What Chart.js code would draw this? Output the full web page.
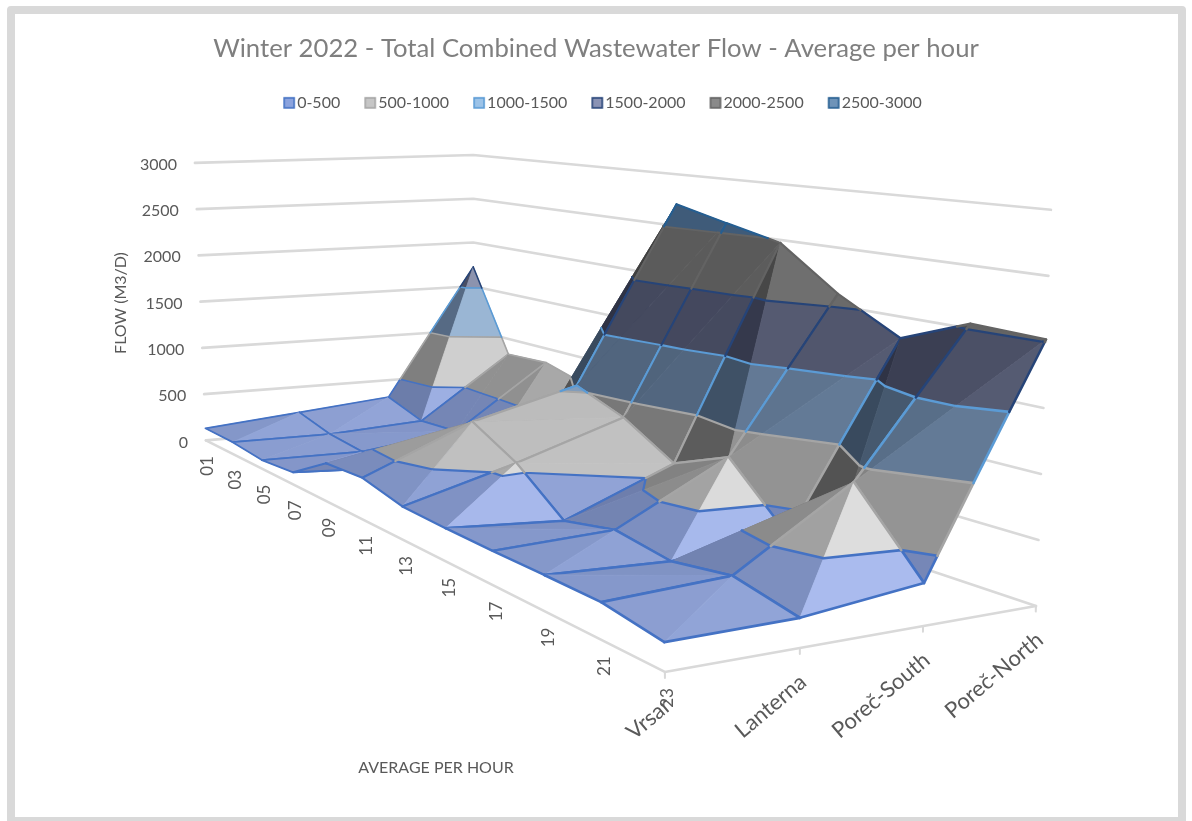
<!DOCTYPE html>
<html><head><meta charset="utf-8">
<style>
html,body{margin:0;padding:0;background:#fff;width:1192px;height:821px;overflow:hidden}
#frame{position:absolute;left:7px;top:6px;width:1163px;height:803px;border:8px solid #d9d9d9;border-radius:4px;box-sizing:content-box}
canvas{position:absolute;left:0;top:0}
</style>
<script src="https://cdn.jsdelivr.net/npm/chart.js@4/dist/chart.umd.min.js"></script>
</head><body>
<div id="frame"></div>
<canvas id="c" width="1192" height="821"></canvas>
<script>
// ---- data ----
const hours = ['01','03','05','07','09','11','13','15','17','19','21','23'];
const sites = ['Vrsar','Lanterna','Poreč-South','Poreč-North'];
const vrsar      = [130,125,88,120,359,380,290,278,274,276,273,203];
const lanterna   = [220,120,78,65,129,790,560,218,314,243,321,213];
const porecSouth = [310,176,198,225,379,1040,870,600,800,318,900,315];
const porecNorth = [1720,830,848,725,929,2710,2590,2474,2104,1823,2040,2018];
const yTicks = [0,500,1000,1500,2000,2500,3000];
const bandLabels = ['0-500','500-1000','1000-1500','1500-2000','2000-2500','2500-3000'];

// ---- styles ----
const bandBorder = ['#4472C4','#A5A5A5','#5B9BD5','#264478','#636363','#255E91'];
const bandSwatch = ['#8ba3de','#c6c6c6','#9cc3e8','#8a93b5','#8a8a8a','#6e93b8'];
const bandShades = [
  ['#56648c','#8699cc','#aebff2'],
  ['#4e4e4e','#b6b6b6','#e2e2e2'],
  ['#36465a','#7a94b4','#b2d0ec'],
  ['#2c3042','#6a708a','#a6adca'],
  ['#3c3c3c','#8a8a8a','#9c9c9c'],
  ['#2e4a6a','#5a7690','#88a2bc']
];
const series = [vrsar,lanterna,porecSouth,porecNorth];
const zMax = 3000;
const midStop = 0.62, topStop = 0.95;

// ---- 3D box projection (floor corners + top-plane corners of the box) ----
const floorC = {p00:[205,441],p10:[473,418],p11:[1037,607],p01:[665,673]};
const topC   = {p00:[194,163],p10:[473,155],p11:[1052,210]};
const rise = -0.03, depthPersp = -0.37;
const H = (function(){
  const {p00,p10,p11,p01}=floorC;
  const dx1=p10[0]-p11[0],dx2=p01[0]-p11[0],sx=p00[0]-p10[0]+p11[0]-p01[0];
  const dy1=p10[1]-p11[1],dy2=p01[1]-p11[1],sy=p00[1]-p10[1]+p11[1]-p01[1];
  const det=dx1*dy2-dx2*dy1;
  const g=(sx*dy2-dx2*sy)/det,h=(dx1*sy-sx*dy1)/det;
  const fl=[0,1].map(i=>[p10[i]-p00[i]+g*p10[i],p01[i]-p00[i]+h*p01[i],p00[i]]);
  const w00=1+rise,w10=1+rise+g,w11=1+rise+g+h;
  const tp=[0,1].map(i=>{
    const C=topC.p00[i]*w00,A=topC.p10[i]*w10-C,num11=topC.p11[i]*w11;
    return [A,num11-A-C,C];
  });
  return {g,h,fl,tp};
})();
function project(u,v0,z){
  const t0=v0*(1+depthPersp)/(1+depthPersp*v0);
  const v=t0/(1+H.h-H.h*t0);
  const w=1+H.g*u+H.h*v,k=z/zMax;
  const fx=(H.fl[0][0]*u+H.fl[0][1]*v+H.fl[0][2])/w,fy=(H.fl[1][0]*u+H.fl[1][1]*v+H.fl[1][2])/w;
  const tw=w+rise;
  const tx=(H.tp[0][0]*u+H.tp[0][1]*v+H.tp[0][2])/tw,ty=(H.tp[1][0]*u+H.tp[1][1]*v+H.tp[1][2])/tw;
  return {x:fx+(tx-fx)*k,y:fy+(ty-fy)*k,w};
}

// ---- helpers ----
function hex(c){return [1,3,5].map(i=>parseInt(c.substr(i,2),16));}
function shade(b,s){
  const st=bandShades[b].map(hex);
  const mix=(A,B,t)=>A.map((x,i)=>Math.round(x+(B[i]-x)*t));
  const r=s<midStop?mix(st[0],st[1],s/midStop):mix(st[1],st[2],Math.min(1,(s-midStop)/(topStop-midStop)));
  return `rgb(${r[0]},${r[1]},${r[2]})`;
}
function brightness(t){
  const [A,B,C]=t;
  const ab=[B.u-A.u,B.v-A.v,(B.z-A.z)/zMax*0.6],ac=[C.u-A.u,C.v-A.v,(C.z-A.z)/zMax*0.6];
  let n=[ab[1]*ac[2]-ab[2]*ac[1],ab[2]*ac[0]-ab[0]*ac[2],ab[0]*ac[1]-ab[1]*ac[0]];
  if(n[2]<0)n=n.map(x=>-x);
  const m=Math.hypot(...n);n=n.map(x=>x/m);
  const front=n[1]>0?0.42*n[1]*Math.max(0,1+1.3*Math.min(0,n[0])):0.5*n[1];
  const s=midStop+front+0.55*n[0];
  return Math.max(0.03,Math.min(1,s));
}
function clipSide(poly,val,keepAbove,tag){
  const out=[],N=poly.length;
  const inside=p=>keepAbove?p.z>=val:p.z<=val;
  for(let i=0;i<N;i++){
    const A=poly[i],B=poly[(i+1)%N],ia=inside(A),ib=inside(B);
    const cross=()=>{const t=(val-A.z)/(B.z-A.z);return {u:A.u+(B.u-A.u)*t,v:A.v+(B.v-A.v)*t,z:val};};
    if(ia&&ib)out.push({...A});
    else if(ia&&!ib){out.push({...A});out.push({...cross(),e:tag});}
    else if(!ia&&ib){out.push({...cross(),e:A.e});}
  }
  return out;
}

// ---- build datasets, painted back to front ----
const painted=[];
function seg(points,color,width){
  painted.push({data:points,borderColor:color,backgroundColor:color,borderWidth:width,showLine:true,pointRadius:0,
    fill:false,clip:false,borderCapStyle:'round',borderJoinStyle:'round',tension:0});
}
const gridColor='#d9d9d9';
yTicks.forEach(z=>{
  const a=project(0,0,z),b=project(1,0,z),c=project(1,1,z);
  seg([{x:a.x,y:a.y},{x:b.x,y:b.y},{x:c.x,y:c.y}],gridColor,2.6);
});
{
  const a=project(0,0,0),b=project(0,1,0),c=project(1,1,0);
  seg([{x:a.x,y:a.y},{x:b.x,y:b.y},{x:c.x,y:c.y}],gridColor,2.6);
  sites.forEach((s,j)=>{
    const u=j/(sites.length-1),p=project(u,1,0),q=project(u,1,-42);
    seg([{x:p.x,y:p.y},{x:q.x,y:q.y}],gridColor,2);
  });
}
function addTriangle(tri){
  const s=brightness(tri);
  const lines=[];
  for(let b=0;b<bandLabels.length;b++){
    const lo=b*500,hi=(b+1)*500;
    let poly=clipSide(tri,lo,true,'n');
    if(poly.length>=3)poly=clipSide(poly,hi,false,'c');
    if(poly.length<3)continue;
    const pts=poly.map(p=>project(p.u,p.v,p.z));
    const col=shade(b,s);
    const closed=pts.map(p=>({x:p.x,y:p.y}));closed.push({x:pts[0].x,y:pts[0].y});
    painted.push({data:closed,backgroundColor:col,borderColor:col,borderWidth:0.8,showLine:true,pointRadius:0,fill:'shape',clip:false,tension:0});
    const ed=[];let wsum=0,wn=0;
    poly.forEach((p,i)=>{
      if(p.e==='g'||p.e==='c'){
        const A=pts[i],B=pts[(i+1)%pts.length];
        ed.push({x:A.x,y:A.y},{x:B.x,y:B.y},{x:NaN,y:NaN});
        wsum+=A.w+B.w;wn+=2;
      }
    });
    if(ed.length)lines.push({ed,color:bandBorder[b],w:wn?1.7/(wsum/wn):1.7});
  }
  lines.forEach(l=>seg(l.ed,l.color,l.w));
}
const R=hours.length-1,C=sites.length-1;
for(let k=0;k<R;k++){
  for(let c=C-1;c>=0;c--){
    const P=(kk,cc)=>({u:cc/C,v:kk/R,z:series[cc][kk]});
    const a=P(k,c),b=P(k,c+1),d=P(k+1,c),e=P(k+1,c+1);
    const tag=(p,t)=>({...p,e:t});
    if(a.z+e.z>=b.z+d.z){
      addTriangle([tag(a,'g'),tag(b,'g'),tag(e,'d')]);
      addTriangle([tag(a,'d'),tag(e,'g'),tag(d,'g')]);
    }else{
      addTriangle([tag(a,'g'),tag(b,'d'),tag(d,'g')]);
      addTriangle([tag(b,'g'),tag(e,'g'),tag(d,'d')]);
    }
  }
}
painted.forEach((d,i)=>{d.order=painted.length-i;});

// ---- axis text ----
const textColor='#595959';
const axisText={
  id:'axisText',
  afterDatasetsDraw(chart){
    const ctx=chart.ctx;ctx.save();ctx.fillStyle=textColor;ctx.textBaseline='middle';
    ctx.font='16px Lato';ctx.textAlign='right';
    yTicks.forEach(z=>{const p=project(0,0,z);ctx.fillText(String(z),p.x-17,p.y+1.5);});
    ctx.font='17px Lato';ctx.textAlign='center';
    hours.forEach((h,k)=>{
      const p=project(0,k/R,0);
      ctx.save();ctx.translate(p.x+3,p.y+25);ctx.rotate(-Math.PI/2);ctx.fillText(h,0,0);ctx.restore();
    });
    ctx.font='22px Lato';ctx.textAlign='right';
    sites.forEach((s,j)=>{
      const p=project(j/C,1,0);
      ctx.save();ctx.translate(p.x+3,p.y+30);ctx.rotate(-40*Math.PI/180);ctx.fillText(s,0,0);ctx.restore();
    });
    ctx.font='16px Lato';ctx.textAlign='center';
    ctx.save();ctx.translate(121,303);ctx.rotate(-Math.PI/2);ctx.fillText('FLOW (M3/D)',0,0);ctx.restore();
    ctx.fillText('AVERAGE PER HOUR',436,768);
    ctx.restore();
  }
};
function swatch(b){
  const cv=document.createElement('canvas');cv.width=24;cv.height=14;
  const x=cv.getContext('2d');
  x.fillStyle=bandSwatch[b];x.fillRect(10,2,10,10);
  x.strokeStyle=bandBorder[b];x.lineWidth=1.6;x.strokeRect(10,2,10,10);
  return cv;
}
const legendShift={id:'legendShift',afterLayout(chart){chart.legend.left+=13;}};

Chart.defaults.font.family='Lato';
const chart=new Chart(document.getElementById('c'),{
  type:'scatter',
  data:{datasets:painted},
  plugins:[axisText,legendShift],
  options:{
    responsive:false,animation:false,events:[],
    layout:{padding:0},
    scales:{
      x:{type:'linear',display:false,min:0,max:1192},
      y:{type:'linear',display:false,reverse:true,min:0,max:821}
    },
    plugins:{
      tooltip:{enabled:false},
      title:{display:true,text:'Winter 2022 - Total Combined Wastewater Flow - Average per hour',
        color:'#7f7f7f',font:{size:25.7,weight:'normal'},padding:{top:33,bottom:7}},
      legend:{display:true,position:'top',onClick:null,
        labels:{usePointStyle:true,pointStyleWidth:6,padding:24,color:textColor,font:{size:16},
          generateLabels:()=>bandLabels.map((t,b)=>({text:t,pointStyle:swatch(b),fontColor:textColor,lineWidth:0,hidden:false,datasetIndex:null}))}}
    }
  }
});
chart.options.scales.y.min=chart.chartArea.top;
chart.options.scales.y.max=821;
chart.update('none');
</script>
</body></html>
